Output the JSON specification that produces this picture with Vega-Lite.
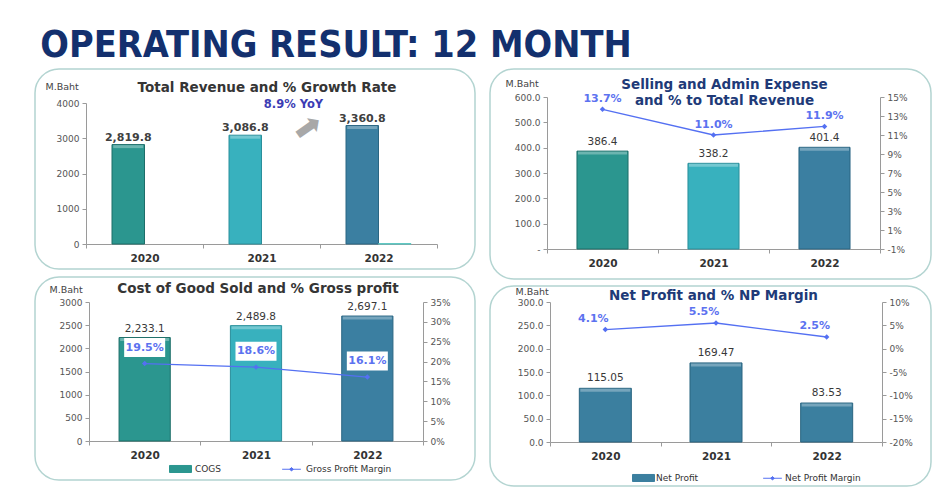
{
  "$schema": "https://vega.github.io/schema/vega-lite/v6.json",
  "background": "white",
  "padding": {"left": 34, "top": 26, "right": 0, "bottom": 0},
  "title": {"text": "OPERATING RESULT: 12 MONTH", "anchor": "start", "frame": "bounds", "font": "Liberation Sans Narrow, DejaVu Sans Condensed, DejaVu Sans", "fontSize": 37.5, "fontWeight": "bold", "color": "#13306e", "offset": 4, "dx": 6},
  "spacing": 13,
  "resolve": {"scale": {"color": "independent"}, "legend": {"color": "independent"}},
  "hconcat": [
    {
      "bounds": "flush",
      "spacing": 8,
      "resolve": {"scale": {"color": "independent"}, "legend": {"color": "independent"}},
      "vconcat": [
        {
          "width": 440, "height": 200,
          "title": {"text": "Total Revenue and % Growth Rate", "offset": -25, "dx": 12, "color": "#353535"},
          "data": {"values": [
            {"year": "2020", "s": "rev", "value": 2819.8},
            {"year": "2021", "s": "rev", "value": 3086.8},
            {"year": "2022", "s": "rev", "value": 3360.8},
            {"year": "2022", "s": "growth", "value": 8.9}
          ]},
          "encoding": {
            "x": {"field": "year", "type": "nominal", "title": null, "scale": {"domain": ["2020", "2021", "2022"], "range": [51, 402], "paddingInner": 0, "paddingOuter": 0}, "axis": {"offset": -25, "tickBand": "extent"}}
          },
          "layer": [
            {
              "mark": {"type": "bar", "strokeWidth": 1},
              "encoding": {
                "xOffset": {"field": "s", "scale": {"domain": ["rev", "growth"], "paddingInner": 0, "paddingOuter": 0.8}},
                "y": {"field": "value", "type": "quantitative", "scale": {"domain": [0, 4000], "range": [175, 34]}, "axis": {"offset": -51, "values": [0, 500, 1000, 1500, 2000, 2500, 3000, 3500, 4000], "format": "d", "labelOverlap": false, "title": "M.Baht", "titleX": -41, "titleY": 17}},
                "fill": {"field": "year", "type": "nominal", "condition": {"test": "datum.s === 'growth'", "value": "#55c4bf"}, "scale": {"domain": ["2020", "2021", "2022"], "range": ["#2b968f", "#38b1be", "#3b7fa1"]}, "legend": null},
                "stroke": {"field": "year", "type": "nominal", "condition": {"test": "datum.s === 'growth'", "value": "#55c4bf"}, "scale": {"domain": ["2020", "2021", "2022"], "range": ["#1d6e69", "#2a8f9b", "#2b6683"]}, "legend": null}
              }
            },
            {
              "transform": [{"filter": "datum.s === 'rev'"}],
              "mark": {"type": "tick", "thickness": 3, "size": 30, "yOffset": 2, "color": "white", "opacity": 0.3},
              "encoding": {
                "xOffset": {"field": "s", "scale": {"domain": ["rev", "growth"], "paddingInner": 0, "paddingOuter": 0.8}},
                "y": {"field": "value", "type": "quantitative"}
              }
            },
            {
              "transform": [{"filter": "datum.s === 'rev'"}],
              "mark": {"type": "text", "baseline": "bottom", "dy": -2, "fontSize": 11, "fontWeight": "bold", "color": "#404040"},
              "encoding": {
                "xOffset": {"field": "s", "scale": {"domain": ["rev", "growth"], "paddingInner": 0, "paddingOuter": 0.8}},
                "y": {"field": "value", "type": "quantitative"},
                "text": {"field": "value", "type": "quantitative", "format": ",.1f"}
              }
            },
            {
              "data": {"values": [{"year": "2021"}]},
              "mark": {"type": "text", "text": "8.9% YoY", "dx": 32, "fontSize": 11.5, "fontWeight": "bold", "color": "#3c3cb4"},
              "encoding": {"y": {"datum": 3943, "type": "quantitative"}}
            },
            {
              "data": {"values": [{"year": "2021"}]},
              "mark": {"type": "text", "text": "➡", "angle": -35, "dx": 38, "dy": 27, "fontSize": 34, "color": "#a8a8a8", "align": "center", "baseline": "middle"},
              "encoding": {"y": {"datum": 3291, "type": "quantitative"}}
            }
          ]
        },
        {
          "width": 440, "height": 203,
          "title": {"text": "Cost of Good Sold and % Gross profit", "offset": -18, "dx": 3, "color": "#353535"},
          "data": {"values": [
            {"year": "2020", "value": 2233.1, "pct": 0.195},
            {"year": "2021", "value": 2489.8, "pct": 0.186},
            {"year": "2022", "value": 2697.1, "pct": 0.161}
          ]},
          "encoding": {
            "x": {"field": "year", "type": "nominal", "title": null, "scale": {"domain": ["2020", "2021", "2022"], "range": [54, 388], "paddingInner": 0, "paddingOuter": 0}, "axis": {"offset": -39, "tickBand": "extent"}}
          },
          "layer": [
            {
              "encoding": {
                "y": {"field": "value", "type": "quantitative", "scale": {"domain": [0, 3000], "range": [164, 25]}, "axis": {"offset": -54, "values": [0, 500, 1000, 1500, 2000, 2500, 3000], "format": "d", "labelOverlap": false, "title": "M.Baht", "titleX": -40, "titleY": 12}}
              },
              "layer": [
                {
                  "mark": {"type": "bar", "strokeWidth": 1, "width": {"band": 0.46}},
                  "encoding": {
                    "fill": {"field": "year", "type": "nominal", "scale": {"domain": ["2020", "2021", "2022"], "range": ["#2b968f", "#38b1be", "#3b7fa1"]}, "legend": null},
                    "stroke": {"field": "year", "type": "nominal", "scale": {"domain": ["2020", "2021", "2022"], "range": ["#1d6e69", "#2a8f9b", "#2b6683"]}, "legend": null}
                  }
                },
                {
                  "mark": {"type": "tick", "thickness": 3, "size": 49, "yOffset": 2, "color": "white", "opacity": 0.3}
                },
                {
                  "mark": {"type": "text", "baseline": "bottom", "dy": -4, "fontSize": 10.5, "color": "#383838"},
                  "encoding": {"text": {"field": "value", "type": "quantitative", "format": ",.1f"}}
                }
              ]
            },
            {
              "encoding": {
                "y": {"field": "pct", "type": "quantitative", "scale": {"domain": [0, 0.35], "range": [164, 25]}, "axis": {"orient": "right", "offset": -52, "values": [0, 0.05, 0.1, 0.15, 0.2, 0.25, 0.3, 0.35], "format": ".0%", "labelOverlap": false, "title": null}}
              },
              "layer": [
                {
                  "mark": {"type": "line", "strokeWidth": 1.3, "point": {"shape": "diamond", "filled": true, "size": 30}},
                  "encoding": {
                    "color": {"datum": "Gross Profit Margin", "type": "nominal", "scale": {"domain": ["COGS", "Gross Profit Margin"], "range": ["#2b968f", "#5470f2"]},
                      "legend": {"orient": "none", "legendX": 134, "legendY": 180, "direction": "horizontal", "title": null, "padding": 0, "columnPadding": 58, "labelOffset": 3, "symbolSize": 484, "labelFontSize": 9, "labelColor": "#333333", "labelFont": "DejaVu Sans",
                        "encode": {"symbols": {"update": {
                          "shape": {"signal": "datum.value === 'COGS' ? 'M-1,-0.32H1V0.32H-1Z' : 'M-0.85,0H0.85M0,-0.16L0.16,0L0,0.16L-0.16,0Z'"},
                          "fill": {"signal": "datum.value === 'COGS' ? '#2b968f' : '#5470f2'"},
                          "stroke": {"signal": "datum.value === 'COGS' ? '#1d6e69' : '#5470f2'"},
                          "strokeWidth": {"value": 1},
                          "opacity": {"value": 1}
                        }}}}
                    }
                  }
                },
                {
                  "mark": {"type": "point", "shape": "M-1.95,-2.45H1.95V-0.75H-1.95Z", "size": 400, "filled": true, "fill": "white", "stroke": "white", "opacity": 1}
                },
                {
                  "mark": {"type": "text", "baseline": "middle", "dy": -16, "fontSize": 11, "fontWeight": "bold", "color": "#5c72f0"},
                  "encoding": {"text": {"field": "pct", "type": "quantitative", "format": ".1%"}}
                }
              ]
            }
          ],
          "resolve": {"scale": {"y": "independent"}}
        }
      ]
    },
    {
      "bounds": "flush",
      "spacing": 7,
      "resolve": {"scale": {"color": "independent"}, "legend": {"color": "independent"}},
      "vconcat": [
        {
          "width": 441, "height": 210,
          "title": {"text": ["Selling  and Admin Expense", "and % to Total Revenue"], "offset": -38, "dx": 14, "color": "#203a78", "lineHeight": 16},
          "data": {"values": [
            {"year": "2020", "value": 386.4, "pct": 0.137},
            {"year": "2021", "value": 338.2, "pct": 0.110},
            {"year": "2022", "value": 401.4, "pct": 0.119}
          ]},
          "encoding": {
            "x": {"field": "year", "type": "nominal", "title": null, "scale": {"domain": ["2020", "2021", "2022"], "range": [57, 390], "paddingInner": 0, "paddingOuter": 0}, "axis": {"offset": -30, "tickBand": "extent"}}
          },
          "layer": [
            {
              "encoding": {
                "y": {"field": "value", "type": "quantitative", "scale": {"domain": [0, 600], "range": [180, 28]}, "axis": {"offset": -57, "values": [0, 100, 200, 300, 400, 500, 600], "labelExpr": "datum.value === 0 ? '-' : format(datum.value, '.1f')", "labelOverlap": false, "title": "M.Baht", "titleX": -42, "titleY": 14}}
              },
              "layer": [
                {
                  "mark": {"type": "bar", "strokeWidth": 1, "width": {"band": 0.46}},
                  "encoding": {
                    "fill": {"field": "year", "type": "nominal", "scale": {"domain": ["2020", "2021", "2022"], "range": ["#2b968f", "#38b1be", "#3b7fa1"]}, "legend": null},
                    "stroke": {"field": "year", "type": "nominal", "scale": {"domain": ["2020", "2021", "2022"], "range": ["#1d6e69", "#2a8f9b", "#2b6683"]}, "legend": null}
                  }
                },
                {
                  "mark": {"type": "tick", "thickness": 3, "size": 49, "yOffset": 2, "color": "white", "opacity": 0.3}
                },
                {
                  "mark": {"type": "text", "baseline": "bottom", "dy": -4, "fontSize": 10.5, "color": "#383838"},
                  "encoding": {"text": {"field": "value", "type": "quantitative", "format": ".1f"}}
                }
              ]
            },
            {
              "encoding": {
                "y": {"field": "pct", "type": "quantitative", "scale": {"domain": [-0.01, 0.15], "range": [180, 28]}, "axis": {"orient": "right", "offset": -51, "values": [-0.01, 0.01, 0.03, 0.05, 0.07, 0.09, 0.11, 0.13, 0.15], "labelExpr": "replace(format(datum.value, '.0%'), '−', '-')", "labelOverlap": false, "title": null}}
              },
              "layer": [
                {
                  "mark": {"type": "line", "strokeWidth": 1.3, "color": "#5470f2", "point": {"shape": "diamond", "filled": true, "size": 30, "color": "#5470f2"}}
                },
                {
                  "mark": {"type": "text", "baseline": "bottom", "dy": -5, "fontSize": 11, "fontWeight": "bold", "color": "#5c72f0"},
                  "encoding": {"text": {"field": "pct", "type": "quantitative", "format": ".1%"}}
                }
              ]
            }
          ],
          "resolve": {"scale": {"y": "independent"}}
        },
        {
          "width": 441, "height": 200,
          "title": {"text": "Net Profit and  % NP Margin", "offset": -16, "dx": 3, "color": "#203a78"},
          "data": {"values": [
            {"year": "2020", "value": 115.05, "pct": 0.041},
            {"year": "2021", "value": 169.47, "pct": 0.055},
            {"year": "2022", "value": 83.53, "pct": 0.025}
          ]},
          "encoding": {
            "x": {"field": "year", "type": "nominal", "title": null, "scale": {"domain": ["2020", "2021", "2022"], "range": [60, 392], "paddingInner": 0, "paddingOuter": 0}, "axis": {"offset": -44, "tickBand": "extent"}}
          },
          "layer": [
            {
              "encoding": {
                "y": {"field": "value", "type": "quantitative", "scale": {"domain": [0, 300], "range": [156, 16]}, "axis": {"offset": -60, "values": [0, 50, 100, 150, 200, 250, 300], "format": ".1f", "labelOverlap": false, "title": "M.Baht", "titleX": -35, "titleY": 5}}
              },
              "layer": [
                {
                  "mark": {"type": "bar", "strokeWidth": 1, "width": {"band": 0.47}, "fill": "#3b7f9f", "stroke": "#2a6580"}
                },
                {
                  "mark": {"type": "tick", "thickness": 3, "size": 50, "yOffset": 2, "color": "white", "opacity": 0.3}
                },
                {
                  "mark": {"type": "text", "baseline": "bottom", "dy": -5, "fontSize": 10.5, "color": "#383838"},
                  "encoding": {"text": {"field": "value", "type": "quantitative", "format": ".2f"}}
                }
              ]
            },
            {
              "encoding": {
                "y": {"field": "pct", "type": "quantitative", "scale": {"domain": [-0.2, 0.1], "range": [156, 16]}, "axis": {"orient": "right", "offset": -49, "values": [-0.2, -0.15, -0.1, -0.05, 0, 0.05, 0.1], "labelExpr": "replace(format(datum.value, '.0%'), '−', '-')", "labelOverlap": false, "title": null}}
              },
              "layer": [
                {
                  "mark": {"type": "line", "strokeWidth": 1.3, "point": {"shape": "diamond", "filled": true, "size": 30}},
                  "encoding": {
                    "color": {"datum": "Net Profit Margin", "type": "nominal", "scale": {"domain": ["Net Profit", "Net Profit Margin"], "range": ["#3b7f9f", "#5470f2"]},
                      "legend": {"orient": "none", "legendX": 142, "legendY": 180, "direction": "horizontal", "title": null, "padding": 0, "columnPadding": 62, "labelOffset": 1, "symbolSize": 484, "labelFontSize": 9, "labelColor": "#333333", "labelFont": "DejaVu Sans",
                        "encode": {"symbols": {"update": {
                          "shape": {"signal": "datum.value === 'Net Profit' ? 'M-1,-0.32H1V0.32H-1Z' : 'M-0.85,0H0.85M0,-0.16L0.16,0L0,0.16L-0.16,0Z'"},
                          "fill": {"signal": "datum.value === 'Net Profit' ? '#2b968f' : '#5470f2'"},
                          "stroke": {"signal": "datum.value === 'Net Profit' ? '#1d6e69' : '#5470f2'"},
                          "strokeWidth": {"value": 1},
                          "opacity": {"value": 1}
                        }}}}
                    }
                  }
                },
                {
                  "mark": {"type": "text", "baseline": "bottom", "dx": -12, "dy": -6, "fontSize": 11, "fontWeight": "bold", "color": "#5c72f0"},
                  "encoding": {"text": {"field": "pct", "type": "quantitative", "format": ".1%"}}
                }
              ]
            }
          ],
          "resolve": {"scale": {"y": "independent"}}
        }
      ]
    }
  ],
  "config": {
    "font": "DejaVu Sans",
    "view": {"stroke": "#b3d4d1", "strokeWidth": 1.5, "cornerRadius": 24},
    "axis": {"grid": false, "domainColor": "#9a9a9a", "tickColor": "#9a9a9a", "tickSize": 4, "labelFont": "DejaVu Sans", "labelFontSize": 9, "labelColor": "#555555", "labelPadding": 3, "titleFont": "DejaVu Sans"},
    "axisX": {"labelAngle": 0, "labelFontWeight": "bold", "labelFontSize": 10.5, "labelColor": "#333333", "labelPadding": 5},
    "axisY": {"titleAngle": 0, "titleAlign": "left", "titleBaseline": "middle", "titleFontSize": 9.5, "titleFontWeight": "normal", "titleColor": "#444444"},
    "title": {"font": "DejaVu Sans", "fontSize": 13.5, "fontWeight": "bold", "anchor": "middle", "frame": "group"}
  }
}
